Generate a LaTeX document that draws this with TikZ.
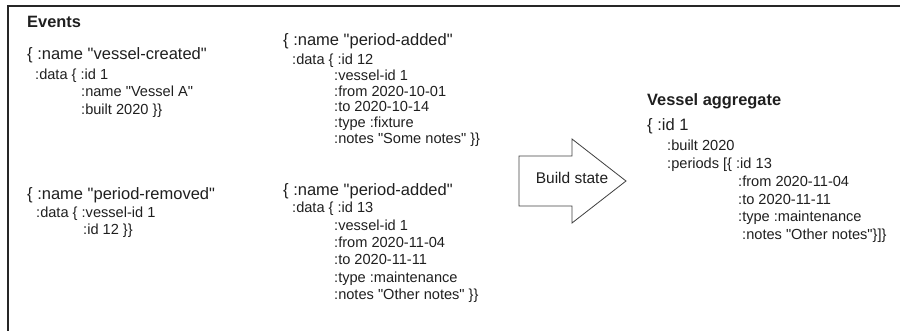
\documentclass[tikz,border=0pt]{standalone}
\usepackage{fontspec}
\setmainfont{Liberation Sans}[Ligatures=TeXOff]
\newcommand\dq{\char34\relax}
\begin{document}
\begin{tikzpicture}[x=1pt,y=-1pt,
  txt/.style={anchor=west,inner sep=0pt,text height=0.72em,text depth=0.21em,text=black!88},
  big/.style={txt,font=\fontsize{16.5}{18}\selectfont},
  small/.style={txt,font=\fontsize{14.6}{17}\selectfont},
  ttl/.style={txt,font=\fontsize{16.4}{18}\selectfont\bfseries},
  frame/.style={draw=black!85,line width=1.6pt},
  bigarrow/.style={draw=black!75,line width=0.8pt,line join=miter}]
\useasboundingbox (0,0) rectangle (900,331);
% frame
\draw[frame] (8,335) -- (8,6) -- (904,6);
% Events
\node[ttl] (ev) at (27,25) {Events};
% block A
\node[big] (a1) at (27,57) {\{ :name \dq vessel-created\dq};
\node[small] (a2) at (35,77) {:data \{ :id 1};
\node[small] (a3) at (81,94) {:name \dq Vessel A\dq};
\node[small] (a4) at (81,112) {:built 2020 \}\}};
% block B
\node[big] (b1) at (27,197) {\{ :name \dq period-removed\dq};
\node[small] (b2) at (36,215) {:data \{ :vessel-id 1};
\node[small] (b3) at (83,232) {:id 12 \}\}};
% block C
\node[big] (c1) at (283,43) {\{ :name \dq period-added\dq};
\node[small] (c2) at (292,62) {:data \{ :id 12};
\node[small] (c3) at (334,78) {:vessel-id 1};
\node[small] (c4) at (334,94) {:from 2020-10-01};
\node[small] (c5) at (334,109) {:to 2020-10-14};
\node[small] (c6) at (334,125) {:type :fixture};
\node[small] (c7) at (334,141) {:notes \dq Some notes\dq{} \}\}};
% block D
\node[big] (d1) at (283,193) {\{ :name \dq period-added\dq};
\node[small] (d2) at (292,210) {:data \{ :id 13};
\node[small] (d3) at (334,228) {:vessel-id 1};
\node[small] (d4) at (334,245) {:from 2020-11-04};
\node[small] (d5) at (334,262) {:to 2020-11-11};
\node[small] (d6) at (334,280) {:type :maintenance};
\node[small] (d7) at (334,297) {:notes \dq Other notes\dq{} \}\}};
% arrow
\draw[bigarrow] (519,156) -- (572,156) -- (572,139) -- (626,181) -- (572,223) -- (572,206) -- (519,206) -- cycle;
\node[small,anchor=center,font=\fontsize{15.5}{17}\selectfont] (bs) at (572,181) {Build state};
% block E
\node[ttl] (vt) at (647,103) {Vessel aggregate};
\node[big] (e1) at (647,128) {\{ :id 1};
\node[small] (e2) at (667,148) {:built 2020};
\node[small] (e3) at (667,166) {:periods [\{ :id 13};
\node[small] (e4) at (738,184) {:from 2020-11-04};
\node[small] (e5) at (738,202) {:to 2020-11-11};
\node[small] (e6) at (738,219) {:type :maintenance};
\node[small] (e7) at (742,237) {:notes \dq Other notes\dq\}]\}};
\end{tikzpicture}
\end{document}
